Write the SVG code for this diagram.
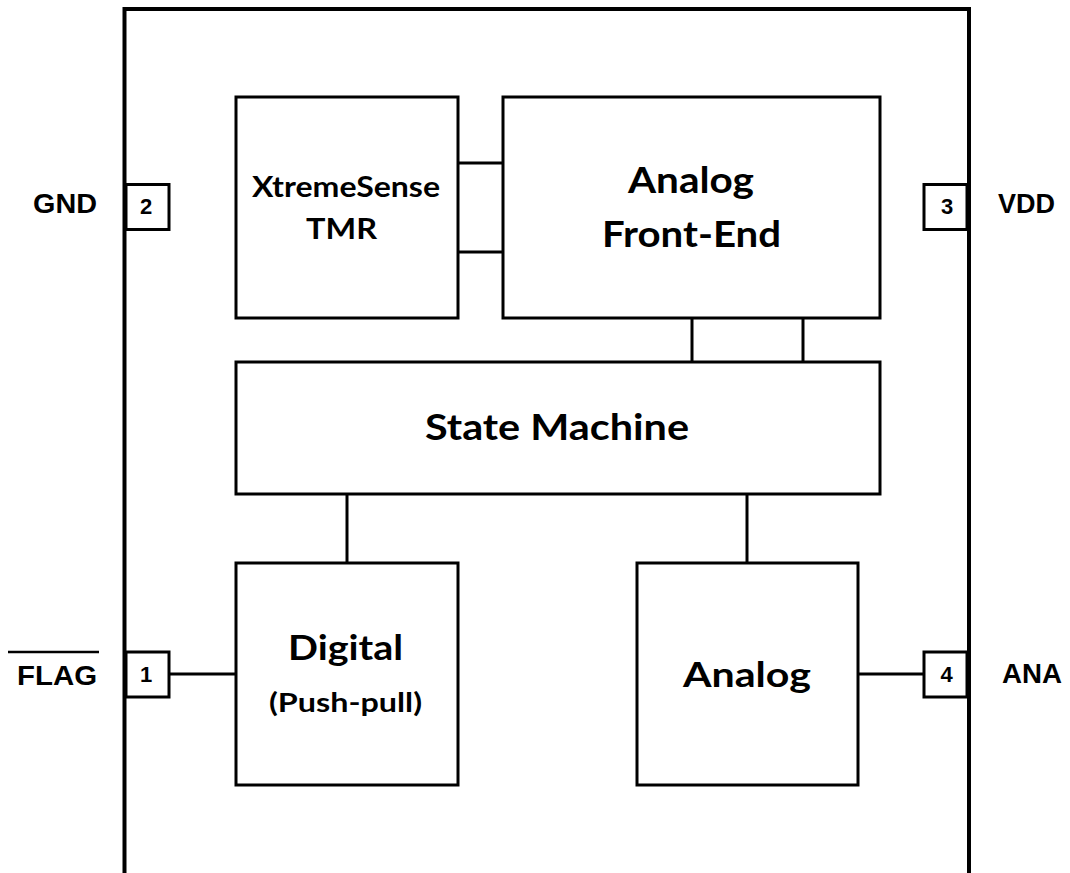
<svg xmlns="http://www.w3.org/2000/svg" width="1070" height="873" viewBox="0 0 1070 873">
  <style>
    .box { fill: #ffffff; stroke: #000000; stroke-width: 3; }
    .pin { fill: #ffffff; stroke: #000000; stroke-width: 3; }
    .wire { stroke: #000000; stroke-width: 3; fill: none; }
    .chip { stroke: #000000; stroke-width: 4; fill: none; }
    .blk { font-family: Lato, "Open Sans", "DejaVu Sans", sans-serif; font-weight: 700; fill: #000000; }
    .lbl { font-family: "Liberation Sans", Arial, sans-serif; font-weight: 700; fill: #000000; font-size: 28px; }
    .num { font-family: "Liberation Sans", Arial, sans-serif; font-weight: 700; fill: #000000; font-size: 22px; text-anchor: middle; }
  </style>
  <rect width="1070" height="873" fill="#ffffff"/>

  <!-- package outline (open at the bottom edge) -->
  <path class="chip" d="M124.5,880 V9 H969 V880"/>

  <!-- connectors -->
  <g id="connectors">
    <line class="wire" x1="458" y1="163" x2="503" y2="163"/>
    <line class="wire" x1="458" y1="252" x2="503" y2="252"/>
    <line class="wire" x1="692" y1="318" x2="692" y2="362"/>
    <line class="wire" x1="803" y1="318" x2="803" y2="362"/>
    <line class="wire" x1="347" y1="494" x2="347" y2="563"/>
    <line class="wire" x1="747" y1="494" x2="747" y2="563"/>
    <line class="wire" x1="169" y1="674" x2="236" y2="674"/>
    <line class="wire" x1="858" y1="674" x2="924" y2="674"/>
  </g>

  <g id="tmr">
    <rect class="box" x="236" y="97" width="222" height="221"/>
    <text class="blk" x="252" y="197" font-size="28" textLength="188" lengthAdjust="spacingAndGlyphs">XtremeSense</text>
    <text class="blk" x="306" y="239" font-size="28" textLength="71" lengthAdjust="spacingAndGlyphs">TMR</text>
  </g>

  <g id="afe">
    <rect class="box" x="503" y="97" width="377" height="221"/>
    <text class="blk" x="628" y="193" font-size="36" textLength="126" lengthAdjust="spacingAndGlyphs">Analog</text>
    <text class="blk" x="602" y="247" font-size="36" textLength="179" lengthAdjust="spacingAndGlyphs">Front-End</text>
  </g>

  <g id="state-machine">
    <rect class="box" x="236" y="362" width="644" height="132"/>
    <text class="blk" x="425" y="440" font-size="37" textLength="264" lengthAdjust="spacingAndGlyphs">State Machine</text>
  </g>

  <g id="digital">
    <rect class="box" x="236" y="563" width="222" height="222"/>
    <text class="blk" x="288" y="660" font-size="35" textLength="115" lengthAdjust="spacingAndGlyphs">Digital</text>
    <text class="blk" x="269" y="712" font-size="26" textLength="153" lengthAdjust="spacingAndGlyphs">(Push-pull)</text>
  </g>

  <g id="analog">
    <rect class="box" x="637" y="563" width="221" height="222"/>
    <text class="blk" x="683" y="687" font-size="35" textLength="128" lengthAdjust="spacingAndGlyphs">Analog</text>
  </g>

  <g id="pin-2">
    <rect class="pin" x="126" y="184.5" width="43" height="45"/>
    <text class="num" x="146" y="214">2</text>
    <text class="lbl" x="33" y="213" textLength="64" lengthAdjust="spacingAndGlyphs">GND</text>
  </g>

  <g id="pin-3">
    <rect class="pin" x="924" y="184.5" width="43" height="45"/>
    <text class="num" x="947" y="214">3</text>
    <text class="lbl" x="998" y="213" textLength="57" lengthAdjust="spacingAndGlyphs">VDD</text>
  </g>

  <g id="pin-1">
    <rect class="pin" x="126" y="652" width="43" height="45"/>
    <text class="num" x="146" y="682">1</text>
    <text class="lbl" x="17" y="685" textLength="80" lengthAdjust="spacingAndGlyphs">FLAG</text>
    <line x1="8" y1="652" x2="99" y2="652" stroke="#000000" stroke-width="2.5"/>
  </g>

  <g id="pin-4">
    <rect class="pin" x="924" y="652" width="43" height="45"/>
    <text class="num" x="946.5" y="682">4</text>
    <text class="lbl" x="1002" y="683" textLength="60" lengthAdjust="spacingAndGlyphs">ANA</text>
  </g>
</svg>
